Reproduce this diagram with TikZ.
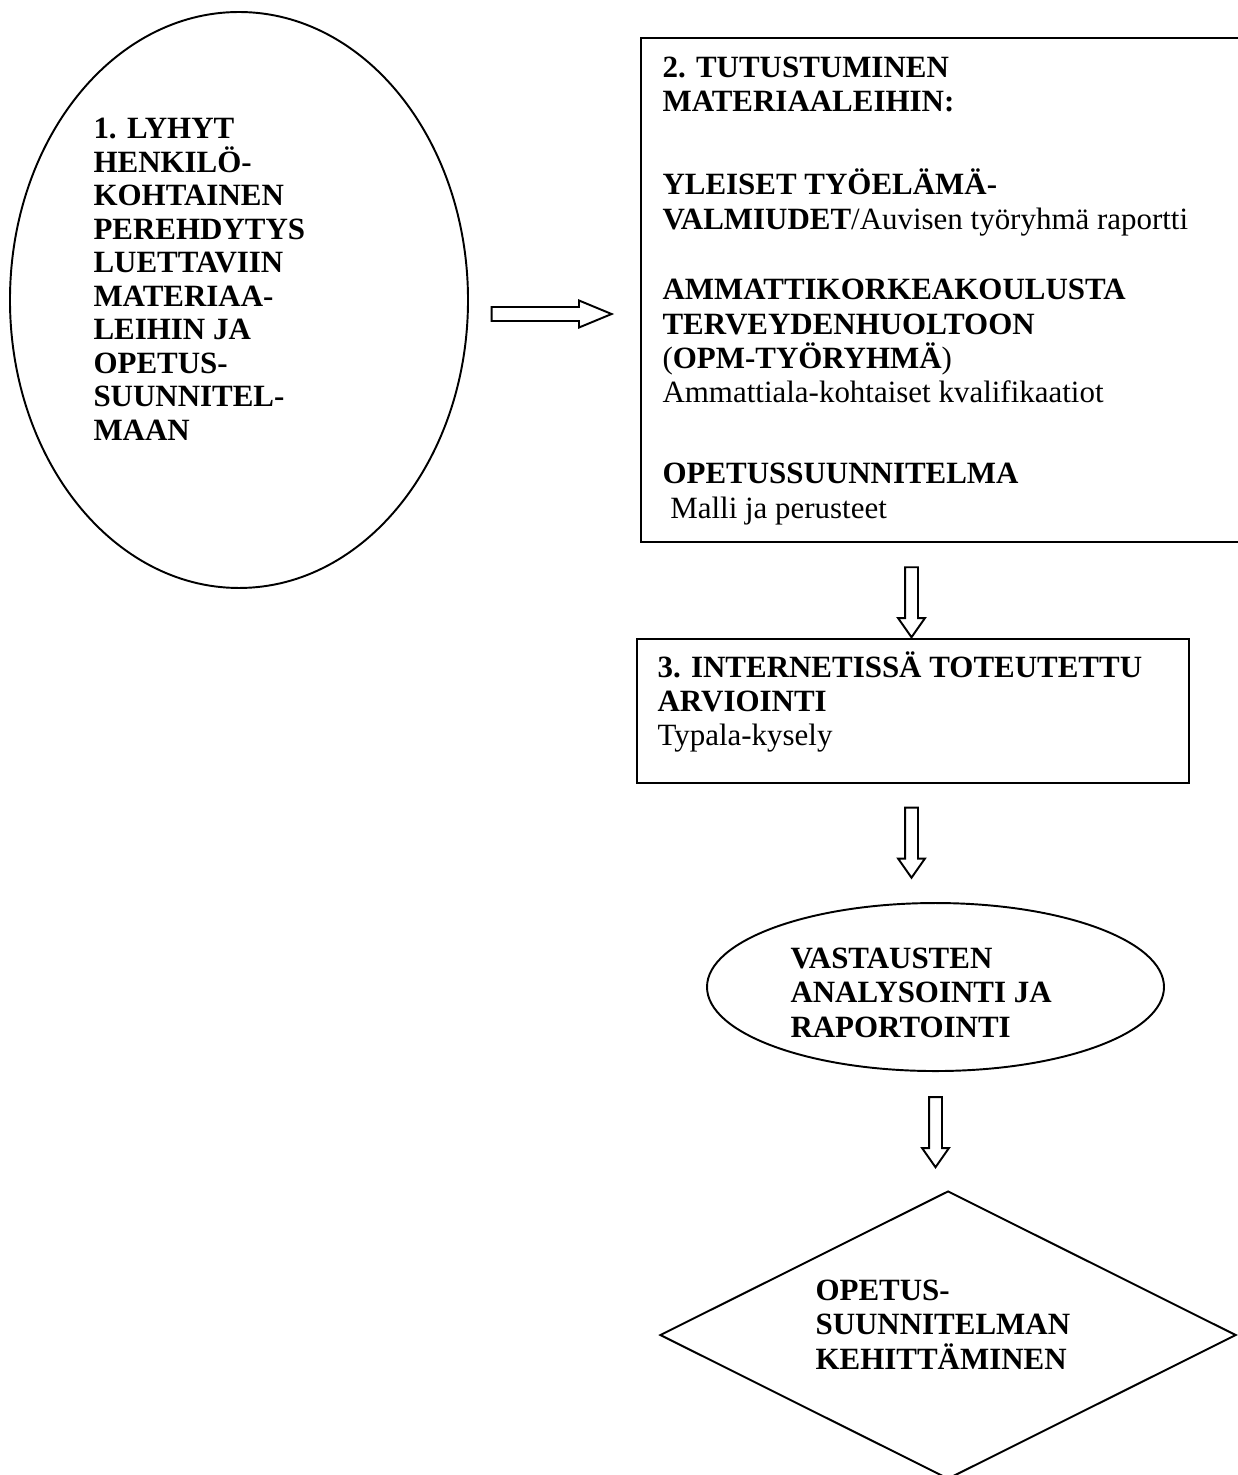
\documentclass[tikz,border=0pt]{standalone}
\usepackage{fontspec}
\setmainfont{Liberation Serif}
\usetikzlibrary{shapes.geometric,shapes.arrows}

\tikzset{
	outline/.style={draw, line width=0.75pt, inner sep=0pt},
	blockarrow/.style={single arrow, draw, line width=0.75pt, inner xsep=0pt, inner ysep=0.075cm},
	flowtext/.style={anchor=north west, align=left, inner sep=0pt, font=\fontsize{12}{13.3}\selectfont}
}

\begin{document}
\begin{tikzpicture}
			%%%%% START %%%%%
			
			\path[fill=white, use as bounding box] (0, 0) rectangle (16.853, -20.095);
			
			\node[outline, ellipse, minimum width=6.24cm, minimum height=7.847cm] (perehdytys) at (3.256, -4.087) {};
			\node[flowtext, font=\fontsize{12}{13}\selectfont\bfseries] (perehdytysteksti) at (1.267, -1.601) {1. LYHYT\\ HENKILÖ-\\ KOHTAINEN\\ PEREHDYTYS\\ LUETTAVIIN\\ MATERIAA-\\ LEIHIN JA\\ OPETUS-\\ SUUNNITEL-\\ MAAN};
			
			\node[blockarrow, inner ysep=0.082cm, single arrow head extend=0.089cm, single arrow tip angle=45, minimum height=1.635cm] (nuoli12) at (7.4, -4.278) {};
			
			\node[outline, anchor=north west, minimum width=8.243cm, minimum height=6.867cm] (materiaalit) at (8.719, -0.504) {};
			\node[flowtext] (materiaaliteksti) at (9.019, -0.77) {\textbf{2. TUTUSTUMINEN}\\ \textbf{MATERIAALEIHIN:}\\[18.9pt]
				\textbf{YLEISET TYÖELÄMÄ-}\\ \textbf{VALMIUDET}/Auvisen työryhmä raportti\\[14.1pt]
				\textbf{AMMATTIKORKEAKOULUSTA}\\ \textbf{TERVEYDENHUOLTOON}\\ (\textbf{OPM-TYÖRYHMÄ})\\ Ammattiala-kohtaiset kvalifikaatiot\\[18.1pt]
				\textbf{OPETUSSUUNNITELMA}\\ \hspace{0.25em}Malli ja perusteet};
			
			\node[blockarrow, rotate=-90, single arrow head extend=0.095cm, single arrow tip angle=70, minimum height=0.954cm] (nuoli23) at (12.418, -8.142) {};
			
			\node[outline, anchor=north west, minimum width=7.52cm, minimum height=1.962cm] (arviointi) at (8.665, -8.692) {};
			\node[flowtext] (arviointiteksti) at (8.951, -8.869) {\textbf{3. INTERNETISSÄ TOTEUTETTU}\\ \textbf{ARVIOINTI}\\ Typala-kysely};
			
			\node[blockarrow, rotate=-90, single arrow head extend=0.095cm, single arrow tip angle=70, minimum height=0.954cm] (nuoli34) at (12.418, -11.418) {};
			
			\node[outline, ellipse, minimum width=6.226cm, minimum height=2.289cm] (analyysi) at (12.745, -13.447) {};
			\node[flowtext, font=\fontsize{12}{13.3}\selectfont\bfseries] (analyysiteksti) at (10.763, -12.909) {VASTAUSTEN\\ ANALYSOINTI JA\\ RAPORTOINTI};
			
			\node[blockarrow, rotate=-90, single arrow head extend=0.095cm, single arrow tip angle=70, minimum height=0.954cm] (nuoli45) at (12.745, -15.362) {};
			
			\node[outline, diamond, minimum width=7.848cm, minimum height=3.924cm] (kehittaminen) at (12.916, -18.188) {};
			\node[flowtext, font=\fontsize{12}{13.3}\selectfont\bfseries] (kehittamisteksti) at (11.104, -17.43) {OPETUS-\\ SUUNNITELMAN\\ KEHITTÄMINEN};
			
			%%%%% END %%%%%
\end{tikzpicture}
\end{document}
